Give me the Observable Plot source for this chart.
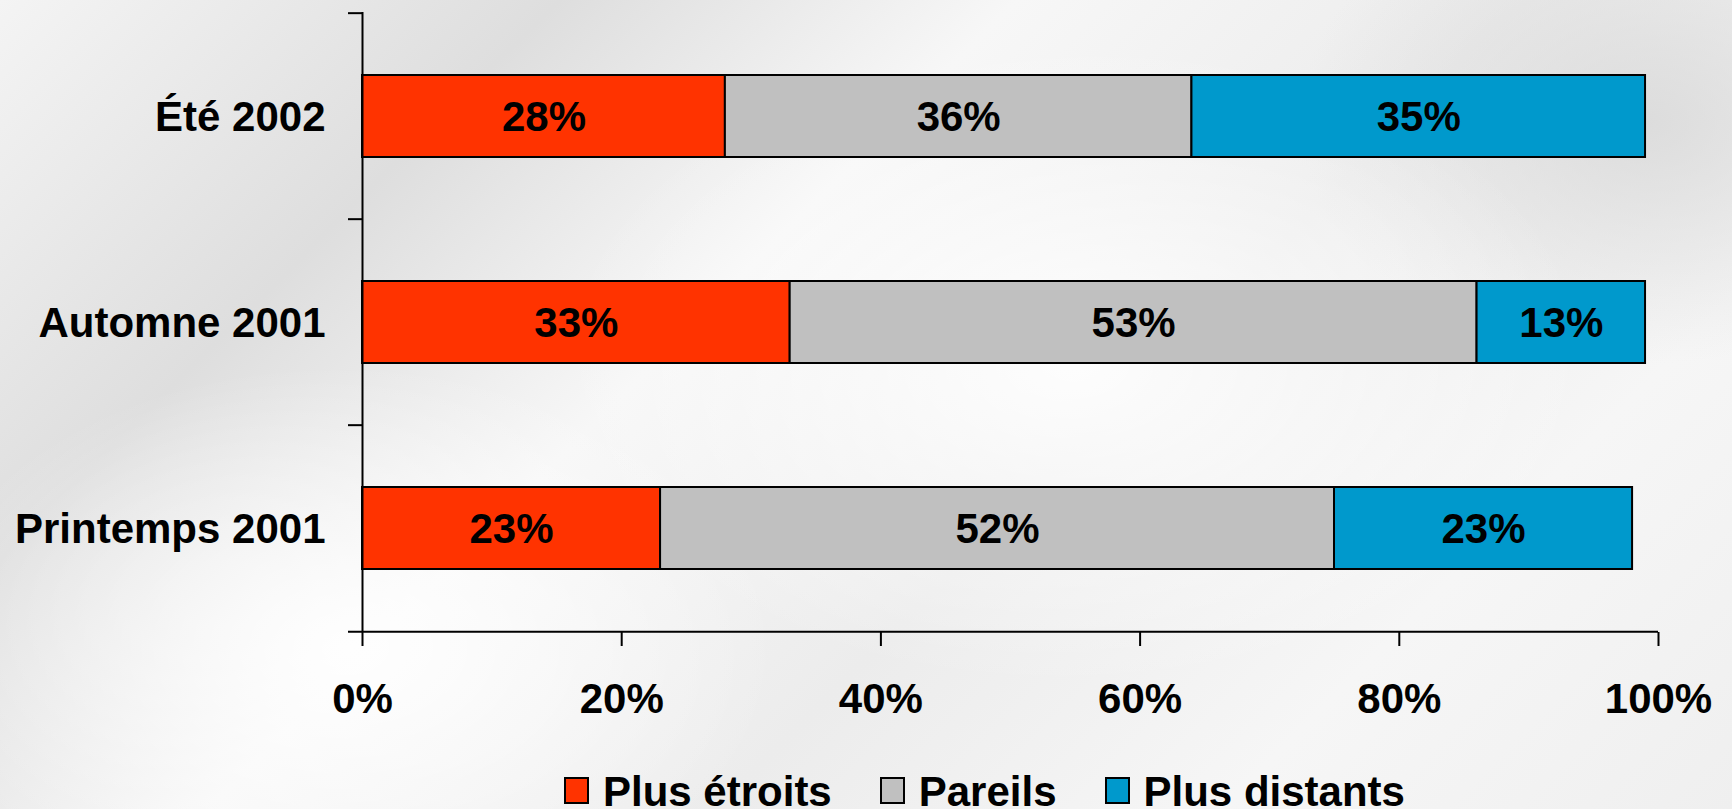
<!DOCTYPE html>
<html>
<head>
<meta charset="utf-8">
<script src="https://cdn.jsdelivr.net/npm/d3@7"></script>
<script src="https://cdn.jsdelivr.net/npm/@observablehq/plot@0.6"></script>
<style>
  html, body { margin: 0; padding: 0; }
  body {
    width: 1732px; height: 809px; overflow: hidden;
    font-family: "Liberation Sans", Arial, sans-serif; font-weight: bold;
    background:
      radial-gradient(ellipse 30% 40% at 62% 45%, rgba(255,255,255,0.9) 0%, rgba(255,255,255,0) 100%),
      radial-gradient(ellipse 25% 35% at 20% 80%, rgba(255,255,255,0.9) 0%, rgba(255,255,255,0) 100%),
      radial-gradient(ellipse 20% 30% at 95% 15%, rgba(215,215,215,0.8) 0%, rgba(215,215,215,0) 100%),
      linear-gradient(135deg, #f4f4f4 0%, #dedede 22%, #f7f7f7 40%, #ececec 60%, #f6f6f6 80%, #efefef 100%);
  }
  #chart svg { display: block; }
  #legend { margin-top: 10px; padding-left: 564px; display: flex; align-items: flex-start;
            font-size: 42px; line-height: 34px; height: 34px; color: #000; white-space: nowrap; }
  .item { display: flex; align-items: flex-start; margin-right: 48px; }
  .sw { width: 25px; height: 27px; box-sizing: border-box; border: 2px solid #000; margin-top: 2px; margin-right: 14px; }
</style>
</head>
<body>
<div id="chart"></div>
<div id="legend"></div>
<script>
const periods = ["Été 2002", "Automne 2001", "Printemps 2001"];
const categories = ["Plus étroits", "Pareils", "Plus distants"];
const colors = ["#FF3300", "#C0C0C0", "#0099CC"];
const plusEtroits = [28, 33, 23];
const pareils = [36, 53, 52];
const plusDistants = [35, 13, 23];
const xTicks = [0, 20, 40, 60, 80, 100];

const seriesValues = [plusEtroits, pareils, plusDistants];
const data = [];
periods.forEach((p, i) => {
  categories.forEach((c, j) => data.push({period: p, category: c, value: seriesValues[j][i]}));
});

const width = 1732, height = 765;
const marginTop = 12, marginBottom = 133, marginLeft = 362, marginRight = 74;
const step = (height - marginTop - marginBottom) / periods.length;
const tickLen = 14 * 100 / (width - marginLeft - marginRight); // 14px in x units

const chart = Plot.plot({
  width, height, marginTop, marginBottom, marginLeft, marginRight,
  style: {background: "transparent", fontFamily: "'Liberation Sans', Arial, sans-serif", fontWeight: "bold", fontSize: "42px", color: "#000", overflow: "visible"},
  x: {domain: [0, 100], label: null},
  y: {domain: periods, paddingInner: 0.6, paddingOuter: 0.3, label: null},
  color: {domain: categories, range: colors},
  marks: [
    Plot.barX(data, Plot.stackX({x: "value", y: "period", fill: "category", order: categories, stroke: "#000", strokeWidth: 2})),
    Plot.text(data, Plot.stackX({x: "value", y: "period", z: "category", order: categories, text: d => d.value + "%", fontSize: 42, fontWeight: "bold", fill: "#000", dy: 1})),
    Plot.ruleX([0], {stroke: "#000", strokeWidth: 2}),
    Plot.ruleY(periods, {y: d => d, x1: -tickLen, x2: 0, dy: -step / 2, stroke: "#000", strokeWidth: 2}),
    Plot.ruleY(periods.slice(-1), {y: d => d, x1: -tickLen, x2: 100, dy: step / 2, stroke: "#000", strokeWidth: 2}),
    Plot.axisX({ticks: xTicks, tickFormat: d => d + "%", tickSize: 14, tickPadding: 37, fontSize: 42, fontWeight: "bold", stroke: "#000", strokeWidth: 2, strokeOpacity: 1, fill: "#000", label: null}),
    Plot.axisY({tickSize: 0, tickPadding: 37, fontSize: 42, fontWeight: "bold", fill: "#000", dy: 1, label: null})
  ]
});
document.getElementById("chart").appendChild(chart);

const legend = document.getElementById("legend");
categories.forEach((c, i) => {
  const item = document.createElement("div");
  item.className = "item";
  const sw = document.createElement("div");
  sw.className = "sw";
  sw.style.background = colors[i];
  const label = document.createElement("span");
  label.textContent = c;
  item.appendChild(sw);
  item.appendChild(label);
  legend.appendChild(item);
});
</script>
</body>
</html>
